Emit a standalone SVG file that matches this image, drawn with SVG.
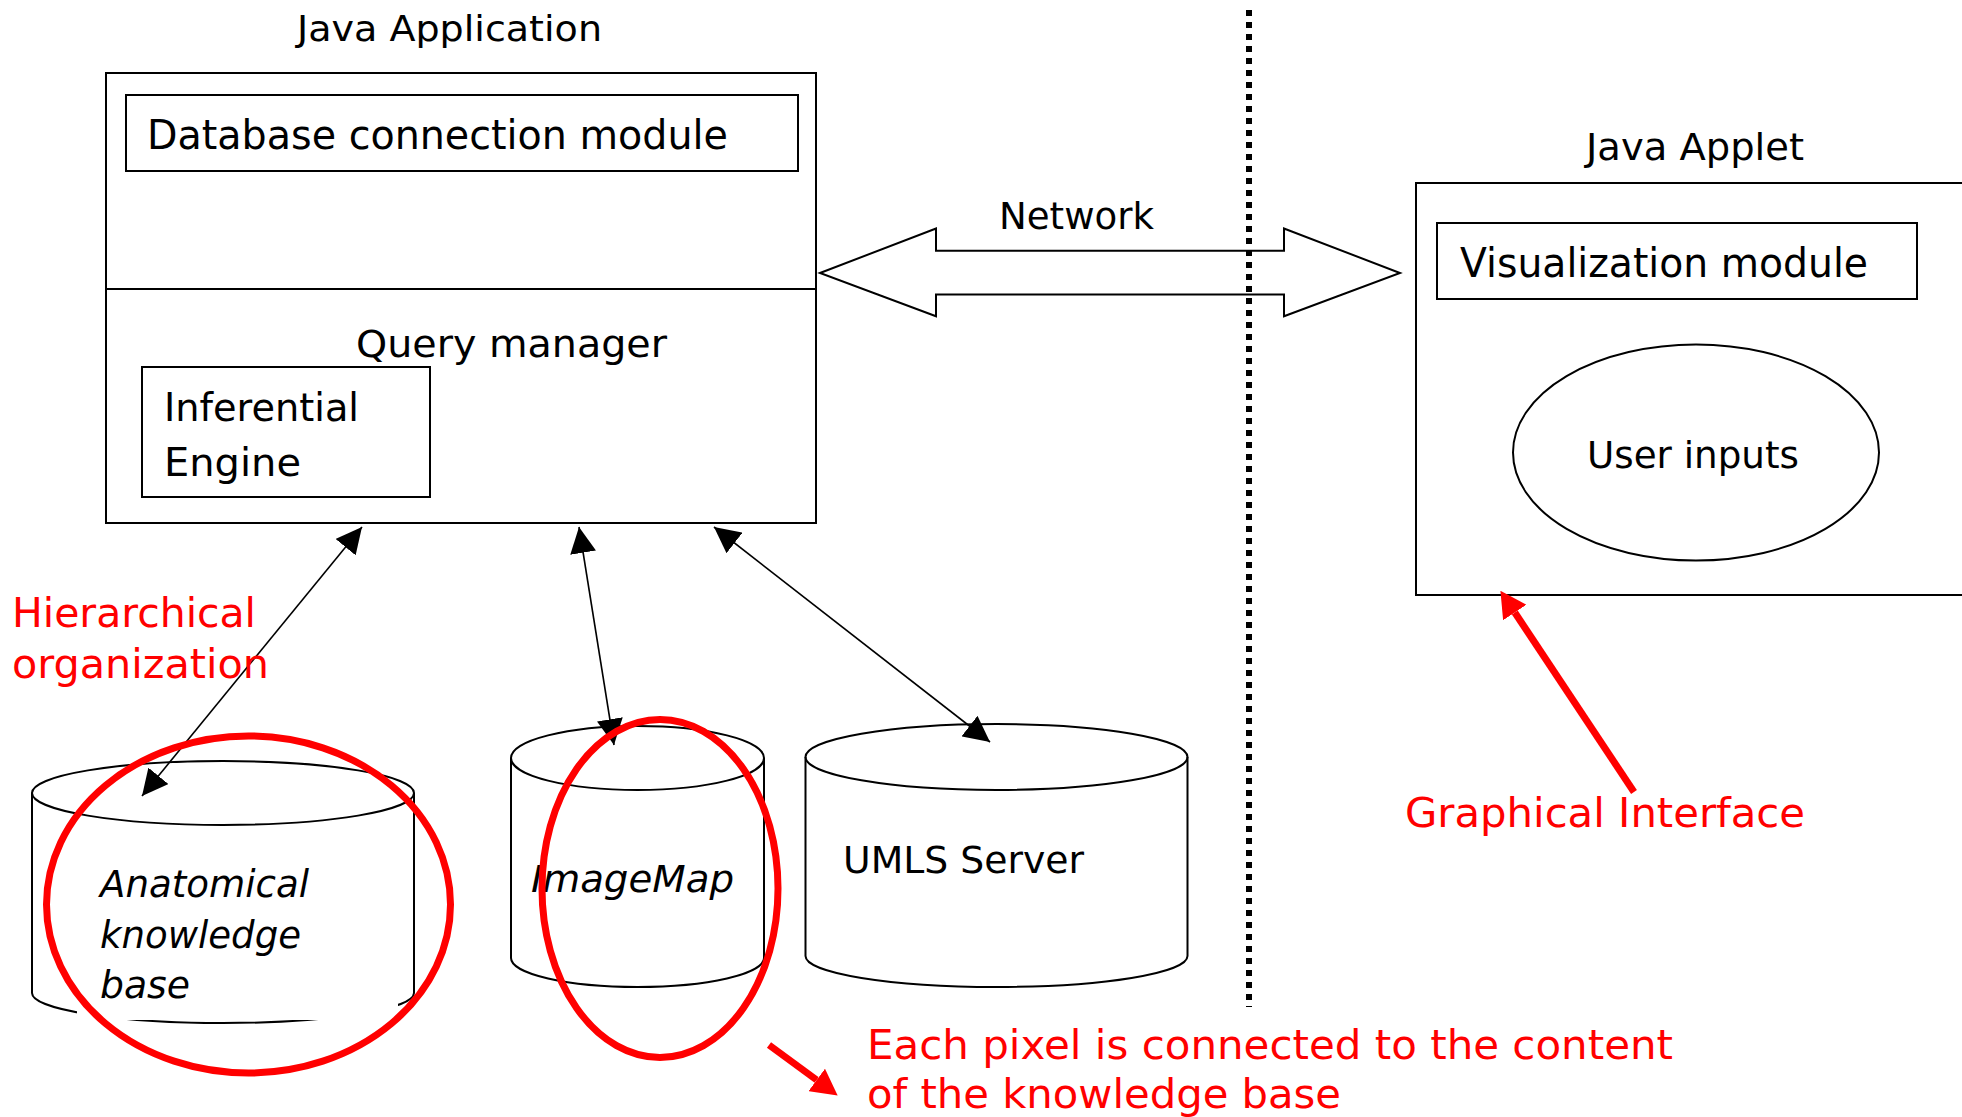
<svg xmlns="http://www.w3.org/2000/svg" width="1962" height="1117" viewBox="0 0 1962 1117">
<style>
.bx{fill:none;stroke:#000;stroke-width:2}
.wbx{fill:#fff;stroke:#000;stroke-width:2}
.t{font-family:"DejaVu Sans","Verdana",sans-serif;fill:#000}
.it{font-style:italic}
.r{fill:#ff0000}
.conn{stroke:#000;stroke-width:1.6;fill:none}
.red{stroke:#ff0000;stroke-width:7;fill:none}
.redl{stroke:#ff0000;stroke-width:7;fill:none}
</style>
<defs>
<marker id="ah" markerUnits="userSpaceOnUse" viewBox="0 0 26 26" refX="26" refY="13" markerWidth="26" markerHeight="26" orient="auto-start-reverse">
<path d="M0,0 L26,13 L0,26 z" fill="#000"/>
</marker>
<marker id="rah" markerUnits="userSpaceOnUse" viewBox="0 0 26 28" refX="0" refY="14" markerWidth="26" markerHeight="28" orient="auto">
<path d="M0,0 L26,14 L0,28 z" fill="#ff0000"/>
</marker>
</defs>
<rect width="1962" height="1117" fill="#fff"/>

<g id="java-application">
<text class="t" x="297" y="41" font-size="36" textLength="305" lengthAdjust="spacingAndGlyphs">Java Application</text>
<rect class="bx" x="106" y="73" width="710" height="450"/>
<line x1="106" y1="289" x2="816" y2="289" stroke="#000" stroke-width="2"/>
</g>
<g id="db-module">
<rect class="bx" x="126" y="95" width="672" height="76"/>
<text class="t" x="147" y="149" font-size="40" textLength="581" lengthAdjust="spacingAndGlyphs">Database connection module</text>
</g>
<g id="query-manager">
<text class="t" x="356" y="357" font-size="38" textLength="311" lengthAdjust="spacingAndGlyphs">Query manager</text>
</g>
<g id="inferential-engine">
<rect class="bx" x="142" y="367" width="288" height="130"/>
<text class="t" x="164" y="421" font-size="39" textLength="195" lengthAdjust="spacingAndGlyphs">Inferential</text>
<text class="t" x="164" y="476" font-size="39" textLength="137" lengthAdjust="spacingAndGlyphs">Engine</text>
</g>

<g id="network">
<path d="M820,273 L936,228.5 L936,250.7 L1284,250.7 L1284,228.5 L1400,273 L1284,316.3 L1284,294.6 L936,294.6 L936,316.3 Z" fill="none" stroke="#000" stroke-width="2"/>
<text class="t" x="999" y="229" font-size="38" textLength="155" lengthAdjust="spacingAndGlyphs">Network</text>
</g>

<g id="divider">
<line x1="1249" y1="10" x2="1249" y2="1007" stroke="#000" stroke-width="6" stroke-dasharray="6 6"/>
</g>

<g id="java-applet">
<text class="t" x="1586" y="160" font-size="38" textLength="218" lengthAdjust="spacingAndGlyphs">Java Applet</text>
<rect class="bx" x="1416" y="183" width="560" height="412"/>
</g>
<g id="visualization-module">
<rect class="bx" x="1437" y="223" width="480" height="76"/>
<text class="t" x="1460" y="277" font-size="40" textLength="408" lengthAdjust="spacingAndGlyphs">Visualization module</text>
</g>
<g id="user-inputs">
<ellipse class="bx" cx="1696" cy="452.5" rx="183" ry="108"/>
<text class="t" x="1587" y="468" font-size="38" textLength="212" lengthAdjust="spacingAndGlyphs">User inputs</text>
</g>

<g id="anatomical-kb">
<ellipse class="wbx" cx="223" cy="793" rx="191" ry="32"/>
<path class="bx" d="M32,793 L32,993 A191,30 0 0 0 414,993 L414,793"/>
<rect x="77" y="832" width="321" height="188" fill="#fff"/>
<text class="t it" x="100" y="897" font-size="37" textLength="209" lengthAdjust="spacingAndGlyphs">Anatomical</text>
<text class="t it" x="100" y="948" font-size="37" textLength="201" lengthAdjust="spacingAndGlyphs">knowledge</text>
<text class="t it" x="100" y="998" font-size="37" textLength="90" lengthAdjust="spacingAndGlyphs">base</text>
</g>
<g id="imagemap">
<ellipse class="wbx" cx="637.5" cy="758" rx="126.5" ry="32"/>
<path class="bx" d="M511,758 L511,958 A126.5,29 0 0 0 764,958 L764,758"/>
<text class="t it" x="531" y="892" font-size="38" textLength="203" lengthAdjust="spacingAndGlyphs">ImageMap</text>
</g>
<g id="umls-server">
<ellipse class="wbx" cx="996.5" cy="757" rx="191" ry="33"/>
<path class="bx" d="M805.5,757 L805.5,956 A191,31 0 0 0 1187.5,956 L1187.5,757"/>
<text class="t" x="843" y="873" font-size="38" textLength="241" lengthAdjust="spacingAndGlyphs">UMLS Server</text>
</g>

<g id="connectors">
<line class="conn" x1="362" y1="527" x2="142" y2="796" marker-start="url(#ah)" marker-end="url(#ah)"/>
<line class="conn" x1="579" y1="527" x2="614" y2="745" marker-start="url(#ah)" marker-end="url(#ah)"/>
<line class="conn" x1="714" y1="527" x2="990" y2="742" marker-start="url(#ah)" marker-end="url(#ah)"/>
</g>

<g id="annotations">
<text class="t r" x="12" y="627" font-size="40" textLength="244" lengthAdjust="spacingAndGlyphs">Hierarchical</text>
<text class="t r" x="12" y="678" font-size="40" textLength="257" lengthAdjust="spacingAndGlyphs">organization</text>
<ellipse class="red" cx="248.5" cy="904.5" rx="202" ry="168.5"/>
<ellipse class="red" cx="660" cy="888.5" rx="118" ry="169"/>
<line class="redl" x1="1634" y1="792" x2="1514.8" y2="612.5" marker-end="url(#rah)"/>
<text class="t r" x="1405" y="827" font-size="40" textLength="400" lengthAdjust="spacingAndGlyphs">Graphical Interface</text>
<line class="redl" x1="769" y1="1045" x2="816.7" y2="1080" marker-end="url(#rah)"/>
<text class="t r" x="867" y="1059" font-size="40" textLength="806" lengthAdjust="spacingAndGlyphs">Each pixel is connected to the content</text>
<text class="t r" x="867" y="1108" font-size="40" textLength="474" lengthAdjust="spacingAndGlyphs">of the knowledge base</text>
</g>
</svg>
